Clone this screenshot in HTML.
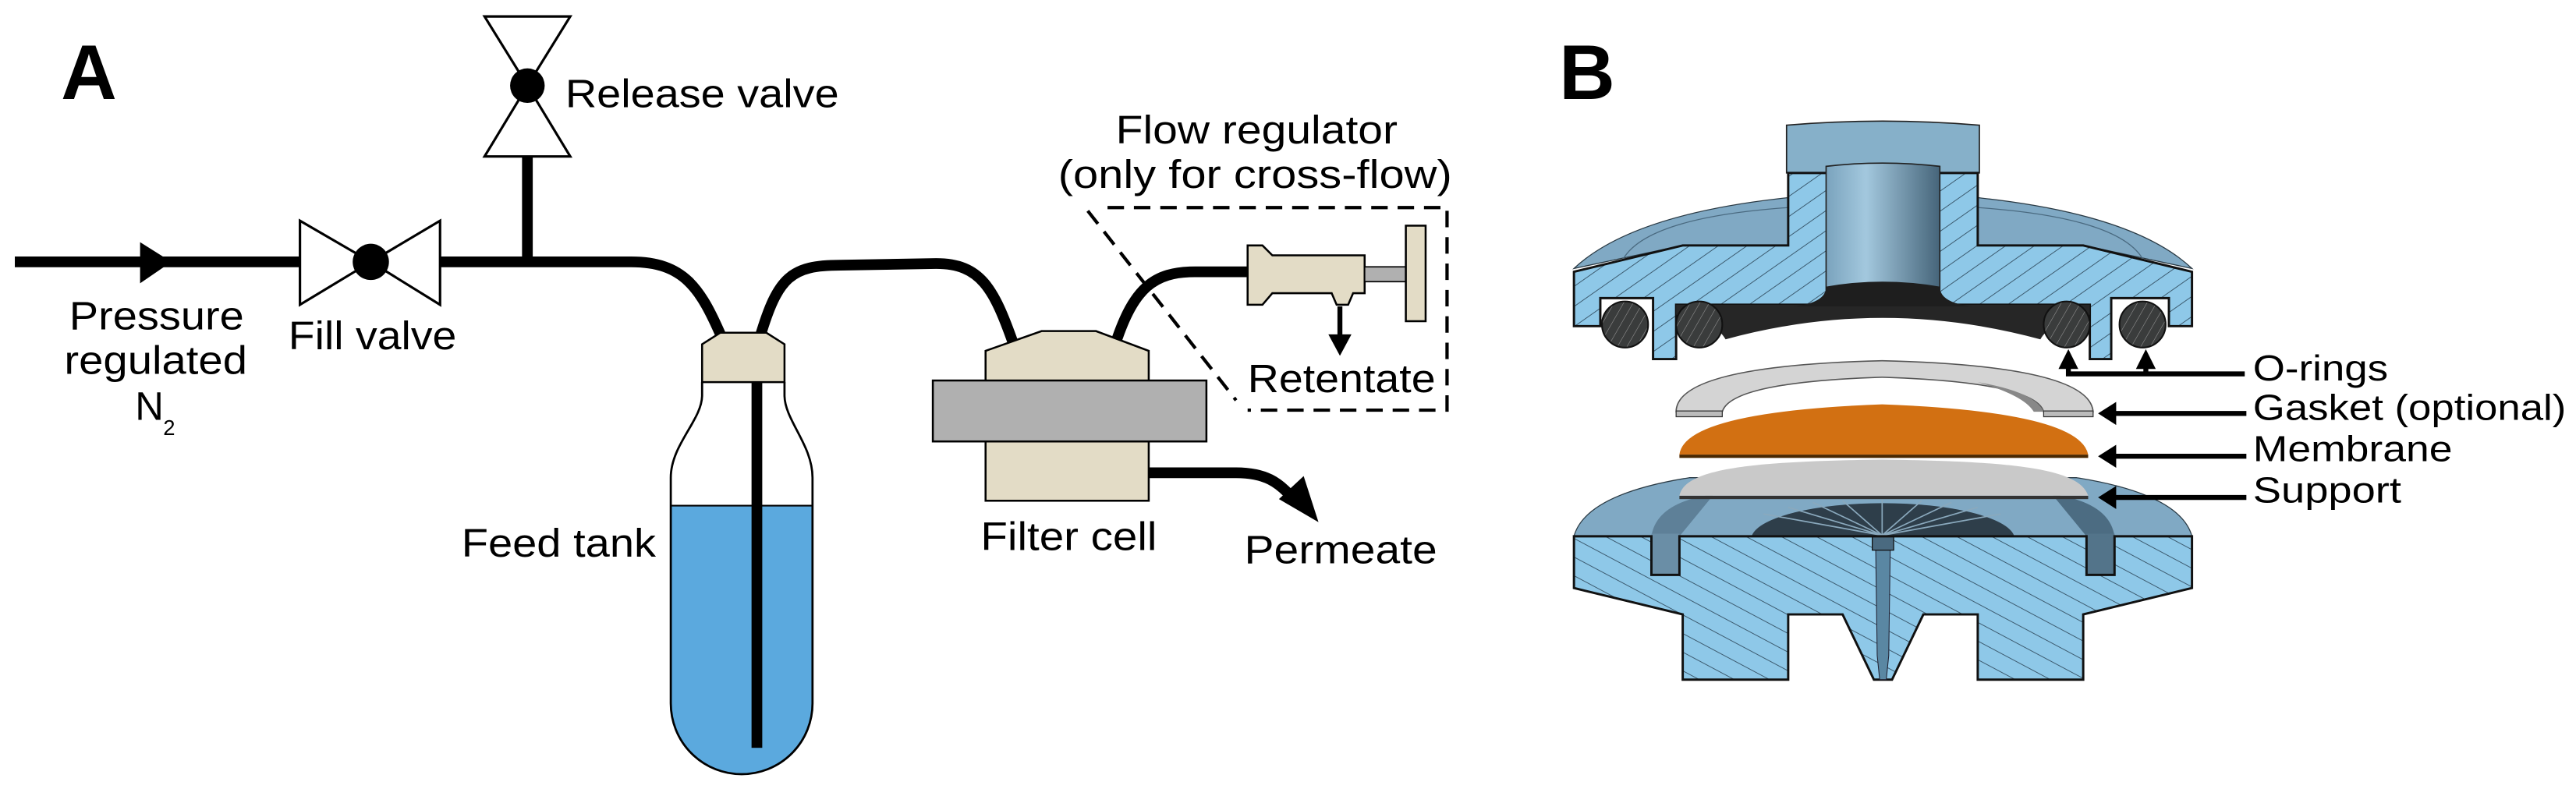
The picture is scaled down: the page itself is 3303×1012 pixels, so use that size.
<!DOCTYPE html>
<html><head><meta charset="utf-8"><style>
html,body{margin:0;padding:0;background:#fff}
svg{display:block}
text{font-family:"Liberation Sans",Arial,sans-serif;fill:#000}
</style></head><body>
<svg width="3303" height="1012" viewBox="0 0 1563 479" preserveAspectRatio="none" xmlns="http://www.w3.org/2000/svg">
<defs>
<pattern id="hT" patternUnits="userSpaceOnUse" width="10" height="10" patternTransform="rotate(-35)">
<rect width="10" height="10" fill="#8ec8e8"/><line x1="0" y1="0" x2="10" y2="0" stroke="#3c5a6e" stroke-width="0.9"/></pattern>
<pattern id="hB" patternUnits="userSpaceOnUse" width="10" height="10" patternTransform="rotate(28)">
<rect width="10" height="10" fill="#8ec8e8"/><line x1="0" y1="0" x2="10" y2="0" stroke="#3c5a6e" stroke-width="0.9"/></pattern>
<pattern id="hO" patternUnits="userSpaceOnUse" width="5" height="5" patternTransform="rotate(-60)">
<rect width="5" height="5" fill="#3a3c3c"/><line x1="0" y1="0" x2="5" y2="0" stroke="#9a9a9a" stroke-width="0.5"/></pattern>
<linearGradient id="bore" x1="0" x2="1" y1="0" y2="0"><stop offset="0" stop-color="#7aa3bd"/><stop offset="0.35" stop-color="#a3c8de"/><stop offset="1" stop-color="#46657a"/></linearGradient>
<clipPath id="tank"><path d="M426,232 L426,240 C426,255 407,270 407,290 L407,427 A43,43 0 0 0 493,427 L493,290 C493,270 476,255 476,240 L476,232 Z"/></clipPath>
</defs>

<!-- PANEL A -->
<text x="37" y="60" font-size="47" font-weight="bold">A</text>

<g fill="none" stroke="#000" stroke-width="6.5">
<path d="M9,159 L383,159 C415,159 425,175 438,205"/>
<path d="M461,205 C472,168 480,161 510,161 L568,160 C595,160 603,175 615,209"/>
<path d="M677,208 C688,175 700,165 725,165 L760,165"/>
<path d="M697,287 L750,287 C768,287 776,293 784,302"/>
<line x1="320" y1="95" x2="320" y2="159"/>
</g>
<polygon points="85,147 85,172 104,159" fill="#000"/>
<polygon points="776,303 791,289 800,317" fill="#000"/>

<polygon points="182,134 182,185 225,159" fill="#fff" stroke="#000" stroke-width="1.5"/>
<polygon points="267,134 267,185 225,159" fill="#fff" stroke="#000" stroke-width="1.5"/>
<circle cx="225" cy="159" r="11" fill="#000"/>
<polygon points="294,10 346,10 320,52" fill="#fff" stroke="#000" stroke-width="1.5"/>
<polygon points="294,95 346,95 320,52" fill="#fff" stroke="#000" stroke-width="1.5"/>
<circle cx="320" cy="52" r="10.5" fill="#000"/>

<path d="M426,232 L426,240 C426,255 407,270 407,290 L407,427 A43,43 0 0 0 493,427 L493,290 C493,270 476,255 476,240 L476,232 Z" fill="#fff"/>
<rect x="400" y="307" width="100" height="170" fill="#5ba9de" clip-path="url(#tank)"/>
<line x1="407" y1="307" x2="493" y2="307" stroke="#000" stroke-width="1"/>
<path d="M426,232 L426,240 C426,255 407,270 407,290 L407,427 A43,43 0 0 0 493,427 L493,290 C493,270 476,255 476,240 L476,232" fill="none" stroke="#000" stroke-width="1.3"/>
<rect x="456" y="225" width="6.5" height="229" fill="#000"/>
<polygon points="426,232 426,209 437,202 465,202 476,209 476,232" fill="#e3dcc6" stroke="#000" stroke-width="1.2"/>

<polygon points="598,232 598,213 632,201 665,201 697,213 697,232" fill="#e3dcc6" stroke="#000" stroke-width="1.2"/>
<rect x="598" y="268" width="99" height="36" fill="#e3dcc6" stroke="#000" stroke-width="1.2"/>
<rect x="566" y="231" width="166" height="37" fill="#b0b0b0" stroke="#000" stroke-width="1.2"/>

<path d="M757,149 L766,149 L772,155 L828,155 L828,178 L821,178 L818,185 L811,185 L808,178 L772,178 L766,185 L757,185 Z" fill="#e3dcc6" stroke="#000" stroke-width="1.2"/>
<rect x="828" y="162" width="25" height="9" fill="#b0b0b0" stroke="#000" stroke-width="0.8"/>
<rect x="853" y="137" width="12" height="58" fill="#e3dcc6" stroke="#000" stroke-width="1.2"/>
<line x1="813" y1="186" x2="813" y2="205" stroke="#000" stroke-width="3"/>
<polygon points="806,203 820,203 813,216" fill="#000"/>

<g stroke="#000" stroke-width="2" stroke-dasharray="10,6" fill="none">
<path d="M672,126 L878,126 L878,249 L757,249"/>
<path d="M660,128 L750,243"/>
</g>

<g font-size="24">
<text x="343" y="65" textLength="166" lengthAdjust="spacingAndGlyphs">Release valve</text>
<text x="677" y="87" textLength="171" lengthAdjust="spacingAndGlyphs">Flow regulator</text>
<text x="642" y="114" textLength="239" lengthAdjust="spacingAndGlyphs">(only for cross-flow)</text>
<text x="757" y="238" textLength="114" lengthAdjust="spacingAndGlyphs">Retentate</text>
<text x="755" y="342" textLength="117" lengthAdjust="spacingAndGlyphs">Permeate</text>
<text x="595" y="334" textLength="107" lengthAdjust="spacingAndGlyphs">Filter cell</text>
<text x="280" y="338" textLength="118" lengthAdjust="spacingAndGlyphs">Feed tank</text>
<text x="175" y="212" textLength="102" lengthAdjust="spacingAndGlyphs">Fill valve</text>
<text x="42" y="200" textLength="106" lengthAdjust="spacingAndGlyphs">Pressure</text>
<text x="39" y="227" textLength="111" lengthAdjust="spacingAndGlyphs">regulated</text>
<text x="82" y="255">N</text>
<text x="99" y="264" font-size="13">2</text>
</g>

<!-- PANEL B -->
<text x="946" y="60" font-size="47" font-weight="bold">B</text>

<path d="M955,163 Q990,130 1085,120 L1085,149 L1021,149 Z" fill="#80a9c4" stroke="#2a3a44" stroke-width="0.6"/>
<path d="M1330,163 Q1295,130 1200,120 L1200,149 L1264,149 Z" fill="#80a9c4" stroke="#2a3a44" stroke-width="0.6"/>
<path d="M985,157 Q1000,132 1085,126" fill="none" stroke="#4a6a80" stroke-width="0.6"/>
<path d="M1300,157 Q1285,132 1200,126" fill="none" stroke="#4a6a80" stroke-width="0.6"/>
<path d="M1084,76 Q1142,71 1201,76 L1201,105 L1084,105 Z" fill="#86b0c9" stroke="#222" stroke-width="0.8"/>
<path d="M955,165 L1021,149 L1085,149 L1085,105 L1200,105 L1200,149 L1264,149 L1330,165 L1330,198 L1316,198 L1316,181 L1281,181 L1281,218 L1268,218 L1268,185 L1017,185 L1017,218 L1003,218 L1003,181 L971,181 L971,198 L955,198 Z" fill="url(#hT)" stroke="#111" stroke-width="1.4"/>
<path d="M1108,101 Q1142,97 1177,101 L1177,176 L1108,176 Z" fill="url(#bore)" stroke="#222" stroke-width="0.8"/>
<path d="M1017,185 L1268,185 L1268,191 Q1245,194 1238,206 Q1142,180 1047,206 Q1040,194 1017,191 Z" fill="#262626"/>
<path d="M1108,174 Q1108,184 1088,186 L1197,186 Q1177,184 1177,174 Q1142,168 1108,174 Z" fill="#1e1e1e"/>
<g stroke="#111" stroke-width="1">
<ellipse cx="986" cy="197" rx="14" ry="14" fill="url(#hO)"/>
<ellipse cx="1031" cy="197" rx="14" ry="14" fill="url(#hO)"/>
<ellipse cx="1254" cy="197" rx="14" ry="14" fill="url(#hO)"/>
<ellipse cx="1300" cy="197" rx="14" ry="14" fill="url(#hO)"/>
</g>

<path d="M1017,250 Q1017,222 1142,219 Q1268,222 1270,250 L1240,250 Q1235,232 1142,229 Q1050,232 1045,250 Z" fill="#d4d4d4" stroke="#555" stroke-width="0.8"/>
<path d="M1200,232 Q1235,238 1240,250 L1234,250 Q1228,240 1200,232 Z" fill="#888"/>
<rect x="1017" y="249.5" width="28" height="3.5" fill="#bbb" stroke="#333" stroke-width="0.6"/>
<rect x="1240" y="249.5" width="30" height="3.5" fill="#bbb" stroke="#333" stroke-width="0.6"/>

<path d="M1019,276 Q1022,250 1142,245.5 Q1262,250 1267,276 Z" fill="#d27012"/>
<rect x="1019" y="276" width="248" height="2" fill="#4a2800"/>

<path d="M955,325.6 Q962,300 1025,290 L1260,290 Q1323,300 1330,325.6 Z" fill="#80a9c4" stroke="#2a3a44" stroke-width="0.6"/>
<path d="M1002,325.6 Q1005,305 1040,300 L1019,325.6 Z" fill="#5e8098"/>
<path d="M1283,325.6 Q1280,305 1245,300 L1266,325.6 Z" fill="#4c6c82"/>
<path d="M1063,325 A80,22 0 0 1 1222,325 Z" fill="#2e3e4a"/>
<g stroke="#8aa9bd" stroke-width="0.8">
<line x1="1142" y1="325" x2="1070" y2="312"/><line x1="1142" y1="325" x2="1085" y2="308"/>
<line x1="1142" y1="325" x2="1100" y2="305"/><line x1="1142" y1="325" x2="1118" y2="304"/>
<line x1="1142" y1="325" x2="1142" y2="303"/><line x1="1142" y1="325" x2="1166" y2="304"/>
<line x1="1142" y1="325" x2="1184" y2="305"/><line x1="1142" y1="325" x2="1200" y2="308"/>
<line x1="1142" y1="325" x2="1214" y2="312"/>
</g>

<path d="M1019,301 C1022,285 1060,280 1142,279 C1225,280 1262,285 1267,301 Z" fill="#c9c9c9"/>
<rect x="1019" y="301" width="248" height="2" fill="#333"/>

<rect x="1002" y="324" width="17" height="25" fill="#6a8ea6"/>
<rect x="1266" y="324" width="17" height="25" fill="#53748a"/>
<path d="M955,325.6 L1002,325.6 L1002,349 L1019,349 L1019,325.6 L1266,325.6 L1266,349 L1283,349 L1283,325.6 L1330,325.6 L1330,357 L1264,373 L1264,412.6 L1200,412.6 L1200,373 L1167,373 L1148,412.6 L1137,412.6 L1118,373 L1085,373 L1085,412.6 L1021,412.6 L1021,373 L955,357 Z" fill="url(#hB)" stroke="#111" stroke-width="1.4"/>
<rect x="1003" y="326" width="15" height="22" fill="#6a8ea6"/>
<rect x="1267" y="326" width="15" height="22" fill="#53748a"/>
<path d="M1138,326 L1147,326 L1146,398 L1144.5,412.6 L1140.5,412.6 L1139,398 Z" fill="#5a87a3" stroke="#223" stroke-width="0.5"/>
<rect x="1136" y="326" width="13" height="8" fill="#4a6a80" stroke="#111" stroke-width="0.6"/>

<g stroke="#000" stroke-width="3" fill="none">
<path d="M1255,222 L1255,227 L1362,227"/>
<line x1="1302" y1="222" x2="1302" y2="227"/>
<line x1="1282" y1="251" x2="1363" y2="251"/>
<line x1="1282" y1="277" x2="1363" y2="277"/>
<line x1="1282" y1="302" x2="1363" y2="302"/>
</g>
<g fill="#000">
<polygon points="1249,224 1261,224 1255,212"/>
<polygon points="1296,224 1308,224 1302,212"/>
<polygon points="1284,244 1284,258 1273,251"/>
<polygon points="1284,270 1284,284 1273,277"/>
<polygon points="1284,295 1284,309 1273,302"/>
</g>
<g font-size="22">
<text x="1367" y="231" textLength="82" lengthAdjust="spacingAndGlyphs">O-rings</text>
<text x="1367" y="255" textLength="190" lengthAdjust="spacingAndGlyphs">Gasket (optional)</text>
<text x="1367" y="280" textLength="121" lengthAdjust="spacingAndGlyphs">Membrane</text>
<text x="1367" y="305" textLength="90" lengthAdjust="spacingAndGlyphs">Support</text>
</g>
</svg>
</body></html>
